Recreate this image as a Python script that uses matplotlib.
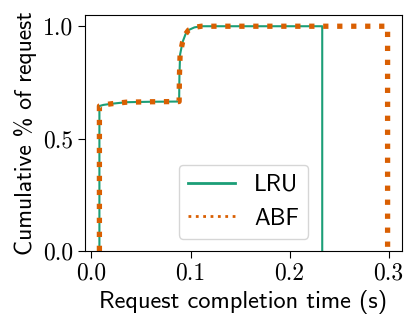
import matplotlib
matplotlib.use("Agg")
import matplotlib.pyplot as plt
from matplotlib.lines import Line2D

plt.rcParams['font.family'] = ['cmss10', 'DejaVu Sans']
plt.rcParams['axes.unicode_minus'] = False

# CDF data
lru_x = [0.008, 0.008, 0.012, 0.020, 0.035, 0.060, 0.0885, 0.0888, 0.0895, 0.092, 0.095, 0.098, 0.104, 0.111, 0.233, 0.233]
lru_y = [0.0, 0.645, 0.650, 0.655, 0.662, 0.664, 0.665, 0.78, 0.875, 0.930, 0.965, 0.983, 0.995, 1.0, 1.0, 0.0]
abf_x = [0.008, 0.008, 0.012, 0.020, 0.035, 0.060, 0.0885, 0.0888, 0.0895, 0.092, 0.095, 0.098, 0.104, 0.111, 0.299, 0.299]
abf_y = [0.0, 0.645, 0.650, 0.655, 0.662, 0.664, 0.665, 0.78, 0.875, 0.930, 0.965, 0.983, 0.995, 1.0, 1.0, 0.0]
labels = ["LRU", "ABF"]
colors = ["#1b9e77", "#d95f02"]
xticks = [0.0, 0.1, 0.2, 0.3]
yticks = [0.0, 0.5, 1.0]

fig = plt.figure(figsize=(4.06, 3.2), dpi=100)
ax = fig.add_axes([85/406, 1 - 251/320, (402-85)/406, (251-15)/320])

ax.plot(lru_x, lru_y, color=colors[0], lw=1.5)
ax.plot(abf_x, abf_y, color=colors[1], lw=3.8, linestyle=':')

ax.set_ylim(0, None)
ax.set_xticks(xticks)
ax.set_xticklabels([f"{v:.1f}" for v in xticks])
ax.set_yticks(yticks)
ax.set_yticklabels([f"{v:.1f}" for v in yticks])
ax.tick_params(labelsize=17, length=5)
for lab in ax.get_xticklabels() + ax.get_yticklabels():
    lab.set_fontfamily('cmr10')
ax.set_xlabel("Request completion time (s)", fontsize=17.5)
ax.set_ylabel("Cumulative % of request", fontsize=17)

handles = [Line2D([], [], color=colors[0], lw=2),
           Line2D([], [], color=colors[1], lw=2, linestyle=':')]
ax.legend(handles, labels, loc='lower center', fontsize=17)

fig.savefig("out.png", dpi=100)
